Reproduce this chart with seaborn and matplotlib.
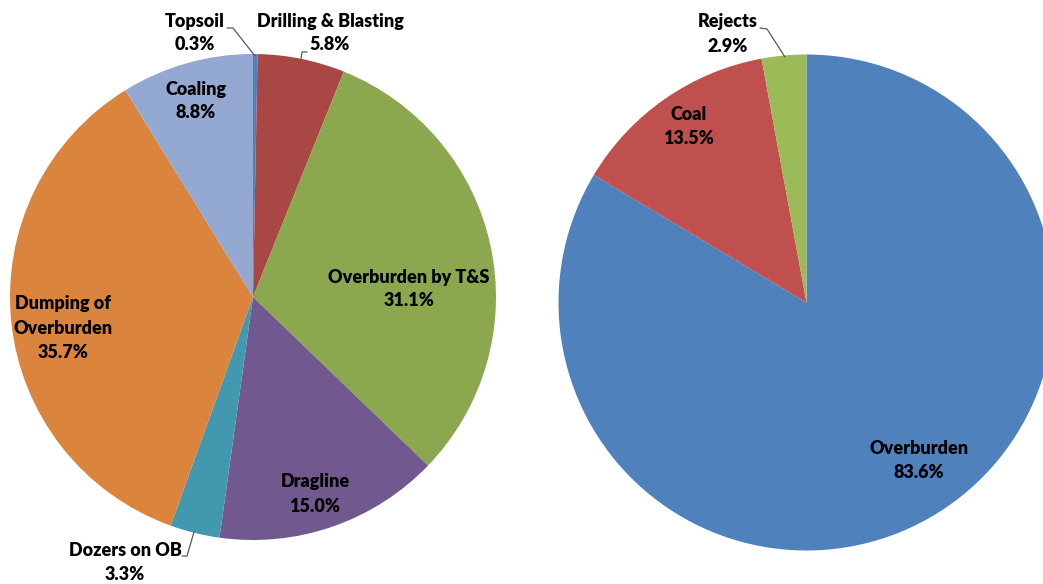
import numpy as np
import matplotlib
matplotlib.use("Agg")
import matplotlib.pyplot as plt
import seaborn as sns

# Data for the two pies (percent shares)
left_labels = ["Topsoil", "Drilling & Blasting", "Overburden by T&S", "Dragline",
               "Dozers on OB", "Dumping of\nOverburden", "Coaling"]
left_values = [0.3, 5.8, 31.1, 15.0, 3.3, 35.7, 8.8]
left_colors = ["#4F81BD", "#A94745", "#8BA84E", "#71588F", "#4198AF", "#DB843D", "#93A9D1"]

right_labels = ["Overburden", "Coal", "Rejects"]
right_values = [83.6, 13.5, 2.9]
right_colors = ["#4F81BD", "#C0504D", "#9BBB59"]

sns.set_theme(style="white")
plt.rcParams['font.family'] = ['Lato', 'DejaVu Sans']

W, H = 1043, 584
fig = plt.figure(figsize=(W / 100, H / 100), dpi=100)
ax = fig.add_axes([0, 0, 1, 1])


def px(x, y):
    # pixel coords (top-left origin) -> axes data coords
    return x, H - y


def draw_pie(values, colors, center, radius):
    ax.pie(values, colors=colors, startangle=90, counterclock=False,
           center=px(*center), radius=radius, frame=True,
           wedgeprops=dict(linewidth=0))


draw_pie(left_values, left_colors, (253, 297), 243)
draw_pie(right_values, right_colors, (806.5, 302.5), 248)
ax.set_xlim(0, W)
ax.set_ylim(0, H)
ax.set_aspect("equal")
ax.axis("off")

# label layout (pixel positions of label centres)
left_pos = [(195, 33), (330, 33), (409, 289), (315, 494), (125, 562), (63, 328), (196, 101)]
right_pos = [(919, 461), (689, 127), (728, 34)]


def put_labels(labels, values, positions):
    for lab, val, (x, y) in zip(labels, values, positions):
        ax.text(*px(x, y), f"{lab}\n{val:.1f}%", ha="center", va="center",
                fontsize=13, fontweight="heavy", color="black", linespacing=1.5)


put_labels(left_labels, left_values, left_pos)
put_labels(right_labels, right_values, right_pos)

# leader lines
leaders = [
    [(227, 28), (233, 28), (255, 56)],
    [(307, 52), (302, 52), (301, 59)],
    [(182, 556), (187, 556), (194, 532)],
    [(760, 28), (767, 29), (785, 57)],
]
for pts in leaders:
    xs, ys = zip(*[px(*p) for p in pts])
    ax.plot(xs, ys, color="#595959", linewidth=0.9)

fig.savefig("out.png", dpi=100, facecolor="white")
